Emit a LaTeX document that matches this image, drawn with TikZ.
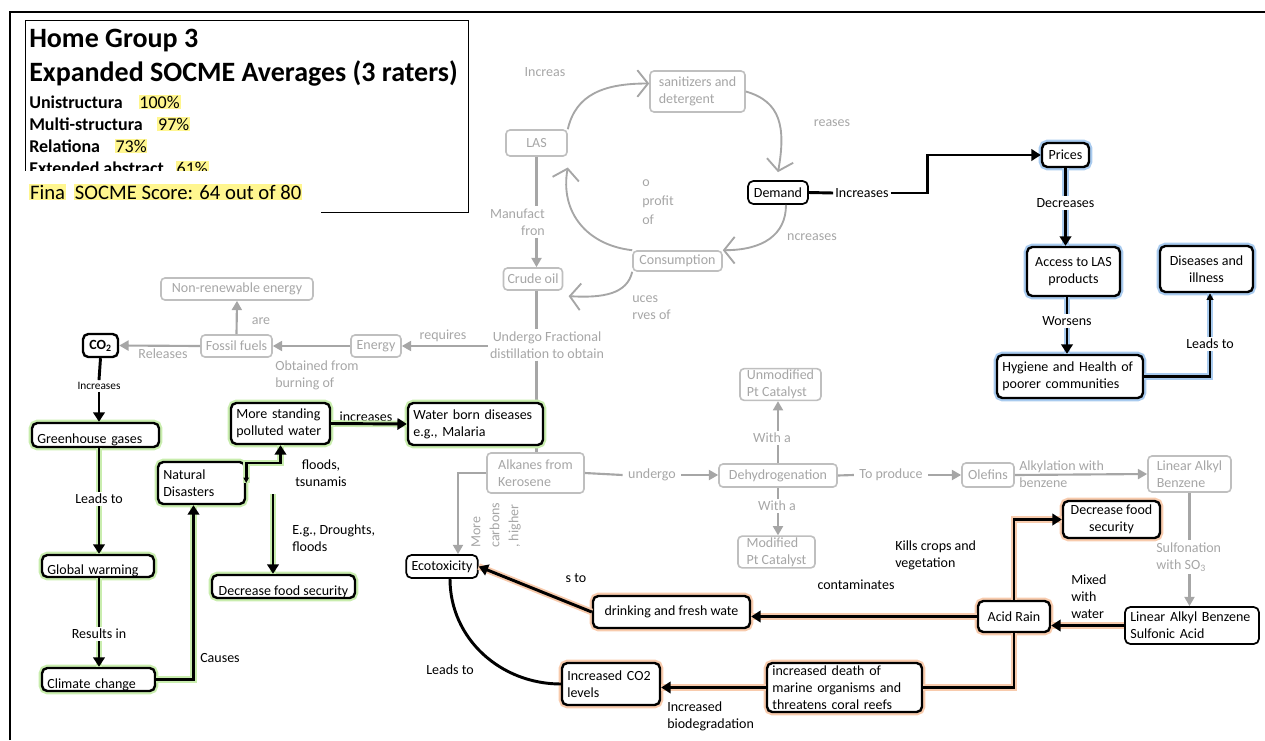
\documentclass[tikz,border=0pt]{standalone}
\usepackage{fontspec}
\setmainfont{Carlito}
\usepackage{xcolor}
\usetikzlibrary{arrows.meta, positioning, calc}

\definecolor{graylc}{HTML}{A6A6A6}
\definecolor{grayb}{HTML}{BFBFBF}
\definecolor{greenglo}{HTML}{C9EDAE}
\definecolor{orangeglo}{HTML}{F8CBAD}
\definecolor{blueglo}{HTML}{A9CBEF}
\definecolor{hlyellow}{HTML}{FFF68F}

\newcommand{\hlbox}[1]{{\setlength{\fboxsep}{0.6pt}\colorbox{hlyellow}{#1}}}

\begin{document}
\begin{tikzpicture}[
    x=0.75pt, y=-0.75pt,
    font=\fontsize{10.5}{12.75}\selectfont,
    gbox/.style={
        draw=grayb,
        text=graylc,
        fill=white,
        rounded corners=3pt,
        line width=1.2pt,
        inner xsep=3pt, inner ysep=1pt
    },
    bbox/.style={
        draw=black,
        fill=white,
        rounded corners=4pt,
        line width=1.8pt,
        inner xsep=4pt, inner ysep=1pt
    },
    thinbox/.style={bbox, line width=1.3pt},
    greenglow/.style={preaction={draw=greenglo, line width=5pt}},
    orangeglow/.style={preaction={draw=orangeglo, line width=5pt}},
    blueglow/.style={preaction={draw=blueglo, line width=5pt}},
    lowtext/.style={text height=13pt, text depth=0pt},
    glabel/.style={text=graylc, inner sep=1.5pt},
    blabel/.style={inner sep=1.5pt},
    gline/.style={draw=graylc, line width=1.6pt},
    garrow/.style={gline, -{Triangle[length=7pt,width=7.5pt]}},
    cyc/.style={draw=graylc, line width=1.4pt, -{Straight Barb[length=8pt,width=20pt]}},
    bline/.style={line width=2.2pt},
    barrow/.style={bline, -{Triangle[length=7pt,width=8.5pt]}},
    greenc/.style={preaction={draw=greenglo, line width=5pt, -}},
    orangec/.style={preaction={draw=orangeglo, line width=5pt, -}},
    bluec/.style={preaction={draw=blueglo, line width=5pt, -}}
]
    \useasboundingbox (0,0) rectangle (1265,740);
    \draw[line width=1.5pt] (10,740) -- (10,12) -- (1265,12);

    % =========================================================
    % SCORE PANEL
    % =========================================================
    \node[draw, line width=1.1pt, minimum width=332.25pt, minimum height=144pt,
          anchor=north west, inner sep=0] (titlebox) at (25,20) {};
    \node[anchor=base west, inner sep=0, font=\fontsize{21}{25}\selectfont\bfseries] (title1) at (29,47) {Home Group 3};
    \node[anchor=base west, inner sep=0, font=\fontsize{21}{25}\selectfont\bfseries] (title2) at (29,81) {Expanded SOCME Averages (3 raters)};
    \node[anchor=base west, inner sep=0, font=\fontsize{13.5}{16.5}\selectfont] (uni) at (29,108) {\textbf{Unistructura}\hspace{12pt}\hlbox{100\%}};
    \node[anchor=base west, inner sep=0, font=\fontsize{13.5}{16.5}\selectfont] (multi) at (29,130) {\textbf{Multi-structura}\hspace{11pt}\hlbox{97\%}};
    \node[anchor=base west, inner sep=0, font=\fontsize{13.5}{16.5}\selectfont] (rel) at (29,152) {\textbf{Relationa}\hspace{11pt}\hlbox{73\%}};
    \node[anchor=base west, inner sep=0, font=\fontsize{13.5}{16.5}\selectfont] (ext) at (29,174) {\textbf{Extended abstract}\hspace{9pt}\hlbox{61\%}};
    \node[fill=white, minimum width=226.5pt, minimum height=34pt, anchor=north west, inner sep=0] (cover) at (19,171) {};
    \node[anchor=base west, inner sep=0, font=\fontsize{15.5}{18}\selectfont] (final) at (29,199) {\hlbox{Fina}\hspace{0.4em}\hlbox{SOCME Score: 64 out of 80}};

    % =========================================================
    % GREY CONCEPTS (LAS PRODUCTION CHAIN)
    % =========================================================
    \node[gbox, minimum width=45.75pt, minimum height=19.5pt] (las) at (536.5,143) {LAS};
    \node[gbox, minimum width=71.25pt, minimum height=30.75pt, align=left] (sanit) at (697.5,91.5) {sanitizers and\\detergent};
    \node[gbox, minimum width=66.75pt, minimum height=15pt] (consump) at (677.5,261) {Consumption};
    \node[gbox, minimum width=40.5pt, minimum height=16.5pt] (crude) at (533,279) {Crude oil};
    \node[gbox, minimum width=114pt, minimum height=16.5pt] (nonrenew) at (237,289) {Non-renewable energy};
    \node[gbox, minimum width=53.25pt, minimum height=16.5pt] (fossil) at (236.5,346) {Fossil fuels};
    \node[gbox, minimum width=37.5pt, minimum height=16.5pt] (energy) at (376,346) {Energy};
    \node[gbox, minimum width=72.75pt, minimum height=30pt, align=left] (alkanes) at (535.5,473) {Alkanes from\\Kerosene};
    \node[gbox, minimum width=88.5pt, minimum height=17.25pt] (dehyd) at (778,475.5) {Dehydrogenation};
    \node[gbox, minimum width=60.75pt, minimum height=23.25pt, align=left] (unmod) at (780.5,384.5) {Unmodified\\Pt Catalyst};
    \node[gbox, minimum width=57.75pt, minimum height=22.5pt, align=left] (modif) at (776.5,552) {Modified\\Pt Catalyst};
    \node[gbox, minimum width=39pt, minimum height=18pt] (olefins) at (988,475) {Olefins};
    \node[gbox, minimum width=62.25pt, minimum height=27pt, align=left] (lab) at (1189.5,474) {Linear Alkyl\\Benzene};

    \node[glabel] (lincreas) at (545,72) {Increas};
    \node[glabel] (lreases) at (832,123) {reases};
    \node[glabel, anchor=west, align=left, font=\fontsize{10.5}{14.25}\selectfont] (lprofit) at (640,202) {o\\profit\\of};
    \node[glabel] (lncreases) at (812,237) {ncreases};
    \node[glabel, anchor=west, align=left] (luces) at (630,308) {uces\\rves of};
    \node[glabel, anchor=east, align=right] (lmanuf) at (547,222) {Manufact\\fron};
    \node[glabel, align=center] (lundergoF) at (547,345) {Undergo Fractional\\distillation to obtain};
    \node[glabel] (lrequires) at (443,336) {requires};
    \node[glabel] (lare) at (261,321) {are};
    \node[glabel] (lreleases) at (163,354) {Releases};
    \node[glabel, anchor=west, align=left] (lobtained) at (273,375) {Obtained from\\burning of};
    \node[glabel, rotate=90, anchor=north west, align=left, font=\fontsize{10.5}{14.25}\selectfont] (lmore) at (469,550) {More\\carbons\\, higher};
    \node[glabel, inner xsep=4pt] (lundergo) at (652,475) {undergo};
    \node[glabel] (lwitha1) at (772,438) {With a};
    \node[glabel] (lwitha2) at (777,506) {With a};
    \node[glabel, inner xsep=4pt] (ltoproduce) at (891,475) {To produce};
    \node[glabel, anchor=west, align=left] (lalkyl) at (1017,474) {Alkylation with\\benzene};
    \node[glabel, anchor=west, align=left] (lsulfon) at (1154,557) {Sulfonation\\with SO\textsubscript{3}};

    % grey links
    \draw[cyc] (las.north east) .. controls +(8,-35) and +(-45,0) .. ([yshift=6pt]sanit.west);
    \draw[gline] (las.south) -- (las.south |- lmanuf.north);
    \draw[garrow] (las.south |- lmanuf.south) -- (las.south |- crude.north);
    \draw[gline] (las.south |- crude.south) -- (las.south |- lundergoF.north);
    \draw[gline] (las.south |- lundergoF.south) -- (las.south |- alkanes.north);
    \draw[garrow] (lundergoF.west |- energy.east) -- (energy.east);
    \draw[garrow] (energy.west) -- (fossil.east);
    \draw[garrow] (fossil.north) -- (nonrenew.south);
    \draw[cyc] (consump.north west) .. controls +(-45,-5) and +(-8,45) .. ([yshift=-8pt]las.south east);
    \draw[cyc] (consump.south west) .. controls +(-5,22) and +(35,2) .. ([xshift=4pt,yshift=-4pt]crude.south east);
    \draw[gline] (alkanes.east) -- (lundergo.west);
    \draw[garrow] (lundergo.east) -- (lundergo.east -| dehyd.west);
    \draw[gline] (dehyd.north) -- (dehyd.north |- lwitha1.south);
    \draw[garrow] (dehyd.north |- lwitha1.north) -- (dehyd.north |- unmod.south);
    \draw[gline] (dehyd.south) -- (dehyd.south |- lwitha2.north);
    \draw[garrow] (dehyd.south |- lwitha2.south) -- (dehyd.south |- modif.north);
    \draw[gline] (dehyd.east) -- (ltoproduce.west);
    \draw[garrow] (ltoproduce.east) -- (olefins.west);
    \draw[garrow] (olefins.east) -- (lab.west);
    \draw[gline] (lab.south) -- (lab.south |- lsulfon.north);

    % =========================================================
    % ECONOMIC BRANCH (BLUE)
    % =========================================================
    \node[thinbox, minimum width=45pt, minimum height=17.25pt] (demand) at (778,192.5) {Demand};
    \node[bbox, blueglow, minimum width=35.25pt, minimum height=18pt] (prices) at (1065.5,155) {Prices};
    \node[bbox, blueglow, minimum width=69.75pt, minimum height=36.75pt, align=center] (access) at (1073.5,271.5) {Access to LAS\\products};
    \node[bbox, blueglow, minimum width=109.5pt, minimum height=32.25pt, text width=101.5pt, align=left] (hygiene) at (1070,376.5) {Hygiene and Health of\\poorer communities};
    \node[bbox, blueglow, minimum width=69.75pt, minimum height=34.5pt, align=center] (diseases) at (1206.5,269) {Diseases and\\illness};

    \node[blabel] (lincD) at (862,193) {Increases};
    \node[blabel] (lDecr) at (1065.5,203) {Decreases};
    \node[blabel] (lWors) at (1067,321) {Worsens};
    \node[blabel] (lLeads3) at (1210,344) {Leads to};

    \draw[cyc] (sanit.east) .. controls +(35,10) and +(8,-45) .. ([yshift=6pt]demand.north);
    \draw[cyc] ([xshift=6pt]demand.south) .. controls +(0,30) and +(40,0) .. (consump.north east);
    \draw[bline] (demand.east) -- (lincD.west);
    \draw[barrow] (lincD.east) -- ++(37,0) |- (prices.west);
    \draw[bline, bluec] (prices.south) -- (prices.south |- lDecr.north);
    \draw[barrow, bluec] (lDecr.south) -- (lDecr.south |- access.north);
    \draw[bline, bluec] (access.south -| lWors) -- (lWors.north);
    \draw[barrow, bluec] (lWors.south) -- (lWors.south |- hygiene.north);
    \draw[bline, bluec] (hygiene.east) -| (lLeads3.south);
    \draw[bline, bluec, -{Triangle[length=5pt,width=5pt]}] (lLeads3.north) -- (lLeads3.north |- diseases.south);

    % =========================================================
    % CLIMATE BRANCH (GREEN)
    % =========================================================
    \node[bbox, minimum width=26.25pt, minimum height=17.25pt, font=\fontsize{10.5}{12.75}\selectfont\bfseries] (co2) at (100.5,345.5) {CO\textsubscript{2}};
    \node[bbox, greenglow, lowtext, minimum height=18pt, text width=87.25pt, align=left] (greenhouse) at (95.5,435) {Greenhouse gases};
    \node[bbox, greenglow, lowtext, minimum height=16.5pt, text width=76pt, align=left] (globalw) at (98,566) {Global warming};
    \node[bbox, greenglow, lowtext, minimum height=17.25pt, text width=76.75pt, align=left] (climate) at (98.5,679.5) {Climate change};
    \node[bbox, greenglow, minimum height=31.5pt, text width=57.25pt, align=left] (natural) at (201.5,483) {Natural\\Disasters};
    \node[bbox, greenglow, minimum height=30.75pt, text width=66.25pt, align=left] (standing) at (280.5,423.5) {More standing\\polluted water};
    \node[bbox, greenglow, lowtext, minimum height=17.25pt, minimum width=107.25pt, inner xsep=2pt] (foodgreen) at (283.5,586.5) {Decrease food security};
    \node[bbox, greenglow, minimum height=31.5pt, text width=93.25pt, align=left] (waterborn) at (475.5,424) {Water born diseases\\e.g., Malaria};

    \node[blabel, font=\fontsize{8.5}{10}\selectfont] (lincCO2) at (99,386) {Increases};
    \node[blabel] (lLeads1) at (99,499) {Leads to};
    \node[blabel] (lResults) at (99,634) {Results in};
    \node[blabel] (lCauses) at (220,658) {Causes};
    \node[blabel, align=center] (lfloods) at (321,473) {floods,\\tsunamis};
    \node[blabel, anchor=west, align=left] (lEg) at (290,538) {E.g., Droughts,\\floods};
    \node[blabel] (lincr2) at (366,417) {increases};

    \draw[garrow] (fossil.west) -- (co2.east);
    \draw[bline] (co2.south) -- (lincCO2.north);
    \draw[barrow] (lincCO2.south) -- (lincCO2.south |- greenhouse.north);
    \draw[bline, greenc] (greenhouse.south -| lLeads1) -- (lLeads1.north);
    \draw[barrow, greenc] (lLeads1.south) -- (lLeads1.south |- globalw.north);
    \draw[bline, greenc] (globalw.south -| lResults) -- (lResults.north);
    \draw[barrow, greenc] (lResults.south) -- (lResults.south |- climate.north);
    \draw[barrow, greenc] (climate.east) -| ([xshift=-6pt]natural.south);
    \draw[bline, greenc, {Triangle[length=4pt,width=4pt]}-{Triangle[length=7pt,width=8.5pt]}] (natural.east) -- ++(0,-20) -| (standing.south);
    \coordinate (drsrc) at (273,494);
    \draw[barrow, greenc] (drsrc) -- (drsrc |- foodgreen.north);
    \draw[barrow, greenc] (standing.east) -- (waterborn.west);

    % =========================================================
    % ENVIRONMENTAL BRANCH (ORANGE)
    % =========================================================
    \node[thinbox, minimum width=52.5pt, minimum height=17.25pt] (ecotox) at (442,566.5) {Ecotoxicity};
    \node[bbox, orangeglow, minimum width=117.75pt, minimum height=24pt] (drinking) at (671.5,612) {drinking and fresh wate};
    \node[bbox, orangeglow, minimum height=31.5pt, text width=65.5pt, align=left] (co2lev) at (611,684) {Increased CO2\\levels};
    \node[bbox, orangeglow, minimum height=36.75pt, text width=108.25pt, align=left, inner ysep=0pt] (marine) at (844.5,687.5) {increased death of\\marine organisms and\\threatens coral reefs};
    \node[bbox, orangeglow, minimum width=54pt, minimum height=23.25pt] (acidrain) at (1014,616.5) {Acid Rain};
    \node[bbox, orangeglow, minimum width=72.75pt, minimum height=27.75pt, align=center] (foodorange) at (1111.5,519.5) {Decrease food\\security};
    \node[thinbox, minimum height=27.75pt, text width=92.5pt, align=left] (labsa) at (1192,625.5) {Linear Alkyl Benzene\\Sulfonic Acid};

    \node[blabel] (lsto) at (576,578) {s to};
    \node[blabel] (lLeads2) at (450,670) {Leads to};
    \node[blabel, anchor=west, align=left] (lkills) at (893,555) {Kills crops and\\vegetation};
    \node[blabel] (lcontam) at (856,585) {contaminates};
    \node[blabel, anchor=west, align=left] (lmixed) at (1069,597) {Mixed\\with\\water};
    \node[blabel, anchor=west, align=left] (lbiodeg) at (665,716) {Increased\\biodegradation};

    \draw[garrow] (lab.south |- lsulfon.south) -- (lab.south |- labsa.north);
    \draw[garrow] (alkanes.west) -| ([xshift=12pt]ecotox.north);
    \draw[barrow, orangec] (labsa.west) -- (labsa.west -| acidrain.east);
    \draw[barrow, orangec] (acidrain.west) -- (acidrain.west -| drinking.east);
    \draw[barrow, orangec] (acidrain.north) |- (foodorange.west);
    \draw[bline, orangec] (acidrain.south) |- (marine.east);
    \draw[barrow, orangec] (marine.west) -- (marine.west -| co2lev.east);
    \draw[bline] (co2lev.west) .. controls +(-60,0) and +(0,60) .. ([xshift=6pt]ecotox.south);
    \draw[barrow, orangec] (drinking.west) -- (ecotox.east);

\end{tikzpicture}
\end{document}
